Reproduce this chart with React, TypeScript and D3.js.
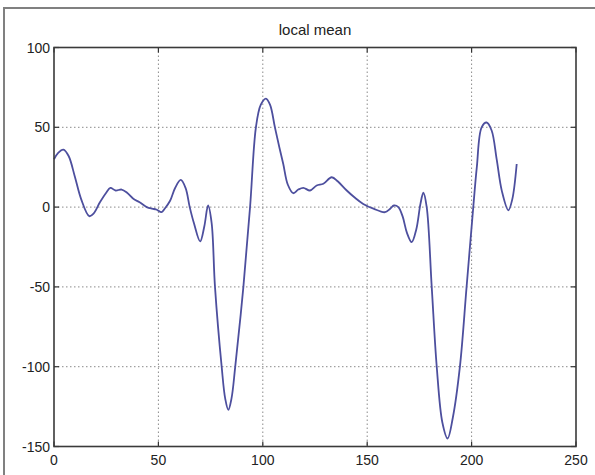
import React from "react";
import * as d3 from "d3";

// samples
const xs = [0, 2, 4.5, 7, 10, 13, 16.9, 19, 22, 25, 27, 29.5, 32.4, 35, 38, 41, 44.4, 47, 49, 51.5, 53, 55.6, 58, 60.7, 63, 65, 67, 70, 72, 73.8, 75.5, 77.1, 80.3, 82, 83.5, 85, 86.8, 90.7, 93.9, 96.7, 99, 101.5, 103.5, 105.8, 108, 109.8, 112, 114.6, 117, 119.4, 122.6, 125.8, 129, 133, 136, 140.2, 144, 148.1, 153, 158.5, 161, 162.8, 164.9, 167, 169, 171.3, 173.5, 175.5, 176.9, 178.5, 180.9, 183.3, 186, 188.5, 191, 194.4, 197.6, 200.8, 202.5, 204.8, 207.2, 209.6, 212, 214.5, 217.6, 219.5, 221.6];
const ys = [30, 34, 36, 32, 19, 5, -5.7, -4, 3, 9, 12, 10.4, 11, 9, 5.2, 3, 0, -1, -1.5, -3.2, -1, 4, 12, 17, 12, 0, -10, -21.5, -12, 1, -10, -50, -100, -120, -127, -120, -100, -50, 0, 50, 64, 68, 64, 50, 37, 27, 14, 8.7, 11, 12.1, 10.4, 13.5, 14.6, 18.7, 16, 10.4, 6, 2, -1, -3.2, -1, 1, 0, -6, -16, -22, -14, 2, 9, 0, -50, -100, -135, -145, -132, -100, -50, 0, 25, 50, 53, 48, 30, 10, -2, 5, 27];

const xTicks = [0, 50, 100, 150, 200, 250];
const yTicks = [100, 50, 0, -50, -100, -150];
const title = "local mean";

const W = 595;
const H = 475;
const left = 54;
const right = 576;
const top = 47.5;
const bottom = 446.5;

export default function App() {
  const x = d3.scaleLinear().domain([0, 250]).range([left, right]);
  const y = d3.scaleLinear().domain([-150, 100]).range([bottom, top]);

  const line = d3
    .line<number>()
    .x((d, i) => x(xs[i]))
    .y((d) => y(d))
    .curve(d3.curveCatmullRom.alpha(0.5));

  const font = "'Liberation Sans', Arial, sans-serif";

  return (
    <svg width={W} height={H} style={{ position: "absolute", left: 0, top: 0, background: "#fff" }}>
      {/* outer figure frame, cropped at right and bottom */}
      <rect x={4} y={8} width={W + 10} height={H + 10} fill="#fff" stroke="#808080" strokeWidth={2} />

      <text x={(left + right) / 2} y={35} textAnchor="middle" fontFamily={font} fontSize={15} fill="#222">
        {title}
      </text>

      {/* grid */}
      <g stroke="#8a8a8a" strokeWidth={1} strokeDasharray="1.5,2.5">
        {xTicks.slice(1, -1).map((t) => (
          <line key={"gx" + t} x1={x(t)} x2={x(t)} y1={top} y2={bottom} />
        ))}
        {yTicks.slice(1, -1).map((t) => (
          <line key={"gy" + t} x1={left} x2={right} y1={y(t)} y2={y(t)} />
        ))}
      </g>

      {/* inward ticks */}
      <g stroke="#333" strokeWidth={1.2}>
        {xTicks.map((t) => (
          <g key={"tx" + t}>
            <line x1={x(t)} x2={x(t)} y1={bottom} y2={bottom - 5} />
            <line x1={x(t)} x2={x(t)} y1={top} y2={top + 5} />
          </g>
        ))}
        {yTicks.map((t) => (
          <g key={"ty" + t}>
            <line x1={left} x2={left + 5} y1={y(t)} y2={y(t)} />
            <line x1={right} x2={right - 5} y1={y(t)} y2={y(t)} />
          </g>
        ))}
      </g>

      <path d={line(ys) ?? ""} fill="none" stroke="#4d4f9e" strokeWidth={1.8} strokeLinejoin="round" />

      <rect x={left} y={top} width={right - left} height={bottom - top} fill="none" stroke="#3a3a3a" strokeWidth={1.6} />

      <g fontFamily={font} fontSize={14} fill="#222">
        {xTicks.map((t) => (
          <text key={"lx" + t} x={x(t)} y={bottom + 18} textAnchor="middle">
            {t}
          </text>
        ))}
        {yTicks.map((t) => (
          <text key={"ly" + t} x={left - 4} y={y(t) + 5} textAnchor="end">
            {t}
          </text>
        ))}
      </g>
    </svg>
  );
}
